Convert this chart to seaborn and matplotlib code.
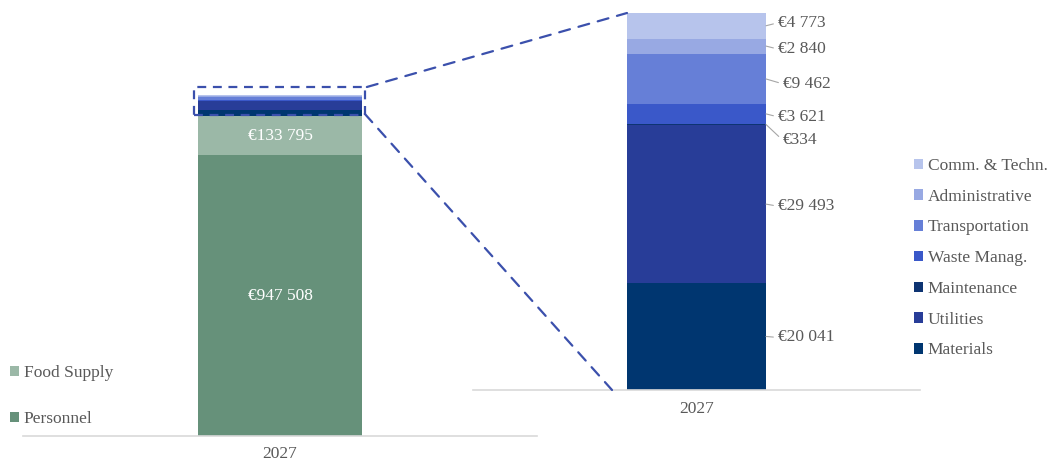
import matplotlib
matplotlib.use("Agg")
import matplotlib.pyplot as plt
import seaborn as sns
import numpy as np
import pandas as pd
from matplotlib.patches import Patch, Rectangle, ConnectionPatch

# ---- data ----
year = "2027"
main_categories = ["Personnel", "Food Supply"]
main_values = [947508, 133795]
main_colors = ["#66917A", "#9BB8A7"]

small_categories = ["Materials", "Utilities", "Maintenance", "Waste Manag.",
                    "Transportation", "Administrative", "Comm. & Techn."]
small_values = [20041, 29493, 334, 3621, 9462, 2840, 4773]
small_colors = ["#003670", "#283D98", "#0E3472", "#3A58C9",
                "#667FD7", "#98A9E3", "#B7C4EC"]
small_labels = ["€20 041", "€29 493", "€334", "€3 621", "€9 462", "€2 840", "€4 773"]
main_labels = ["€947 508", "€133 795"]

sns.set_theme(style="white")
plt.rcParams["font.family"] = ["Liberation Serif", "DejaVu Serif"]
TXT = "#595959"
FS = 12.5
DASH = "#3B50AC"

fig = plt.figure(figsize=(10.51, 4.63), dpi=100)
W, H = 1051, 463
axL = fig.add_axes([23 / W, (H - 436) / H, 514 / W, 341 / H])
axR = fig.add_axes([473 / W, (H - 390) / H, 447 / W, 377 / H])
for ax in (axL, axR):
    ax.patch.set_alpha(0)

# ---- left stacked bar (cumulative overlay, top layer first) ----
all_vals = main_values + small_values
all_cols = main_colors + small_colors
cumL = np.cumsum(all_vals)
wL = 0.318
for i in range(len(all_vals) - 1, -1, -1):
    sns.barplot(x=[year], y=[cumL[i]], color=all_cols[i], saturation=1,
                width=wL, linewidth=0, ax=axL)
totalL = cumL[-1]
axL.set_ylim(0, totalL)
axL.set_xlim(-0.5, 0.5)
bottoms = np.concatenate([[0], cumL[:-1]])
for i, lab in enumerate(main_labels):
    axL.text(0, bottoms[i] + main_values[i] / 2, lab, ha="center", va="center",
             color="white", fontsize=FS)

# ---- right stacked bar ----
cumR = np.cumsum(small_values)
wR = 0.311
for i in range(len(small_values) - 1, -1, -1):
    sns.barplot(x=[year], y=[cumR[i]], color=small_colors[i], saturation=1,
                width=wR, linewidth=0, ax=axR)
totalR = cumR[-1]
axR.set_ylim(0, totalR)
axR.set_xlim(-0.5, 0.5)
botR = np.concatenate([[0], cumR[:-1]])
# label offsets in pixels (dx, dy)
offsets = [(12, -1), (12, -2), (17, -16), (12, -3), (17, -5), (12, -3), (12, 3)]
for i, lab in enumerate(small_labels):
    dx, dy = offsets[i]
    axR.annotate(lab, xy=(wR / 2, botR[i] + small_values[i] / 2),
                 xytext=(dx, dy), textcoords="offset pixels",
                 ha="left", va="center", color=TXT, fontsize=FS,
                 arrowprops=dict(arrowstyle="-", color="#A6A6A6", lw=0.8,
                                 shrinkA=1, shrinkB=0, relpos=(0, 0.5)))

# ---- axes styling ----
for ax, pad in ((axL, 7), (axR, 8)):
    sns.despine(ax=ax, left=True, top=True, right=True)
    ax.spines["bottom"].set_color("#D9D9D9")
    ax.spines["bottom"].set_linewidth(1.2)
    ax.set_yticks([])
    ax.set_ylabel("")
    ax.set_xlabel("")
    ax.tick_params(axis="x", length=0, pad=pad, labelsize=FS, labelcolor=TXT)

# ---- dashed zoom box & connectors ----
px = totalL / 341.0
rx0, rx1 = -0.168, 0.165
ry0, ry1 = cumL[1] + 1 * px, totalL + 8 * px
rect = Rectangle((rx0, ry0), rx1 - rx0, ry1 - ry0, fill=False, edgecolor=DASH,
                 linestyle=(0, (4, 3)), linewidth=1.6, clip_on=False, zorder=5)
axL.add_patch(rect)
c1 = ConnectionPatch(xyA=(rx1 + 0.004, ry1), coordsA=axL.transData,
                     xyB=(-wR / 2, totalR), coordsB=axR.transData,
                     color=DASH, linestyle=(0, (5, 4)), linewidth=1.6)
c2 = ConnectionPatch(xyA=(rx1, ry0 + 1 * px), coordsA=axL.transData,
                     xyB=(-0.189, 0), coordsB=axR.transData,
                     color=DASH, linestyle=(0, (5, 4)), linewidth=1.6)
fig.add_artist(c1)
fig.add_artist(c2)

# ---- legends ----
hR = [Patch(facecolor=c, edgecolor="none") for c in small_colors][::-1]
legR = fig.legend(hR, small_categories[::-1], loc="upper left",
                  bbox_to_anchor=(907 / W, 1 - 151 / H), frameon=False,
                  fontsize=FS, labelcolor=TXT, handlelength=0.55, handleheight=0.55,
                  handletextpad=0.25, labelspacing=0.85, borderaxespad=0)
hL = [Patch(facecolor=c, edgecolor="none") for c in main_colors][::-1]
legL = fig.legend(hL, main_categories[::-1], loc="upper left",
                  bbox_to_anchor=(3 / W, 1 - 358 / H), frameon=False,
                  fontsize=FS, labelcolor=TXT, handlelength=0.55, handleheight=0.55,
                  handletextpad=0.25, labelspacing=1.75, borderaxespad=0)

fig.savefig("out.png", dpi=100)
